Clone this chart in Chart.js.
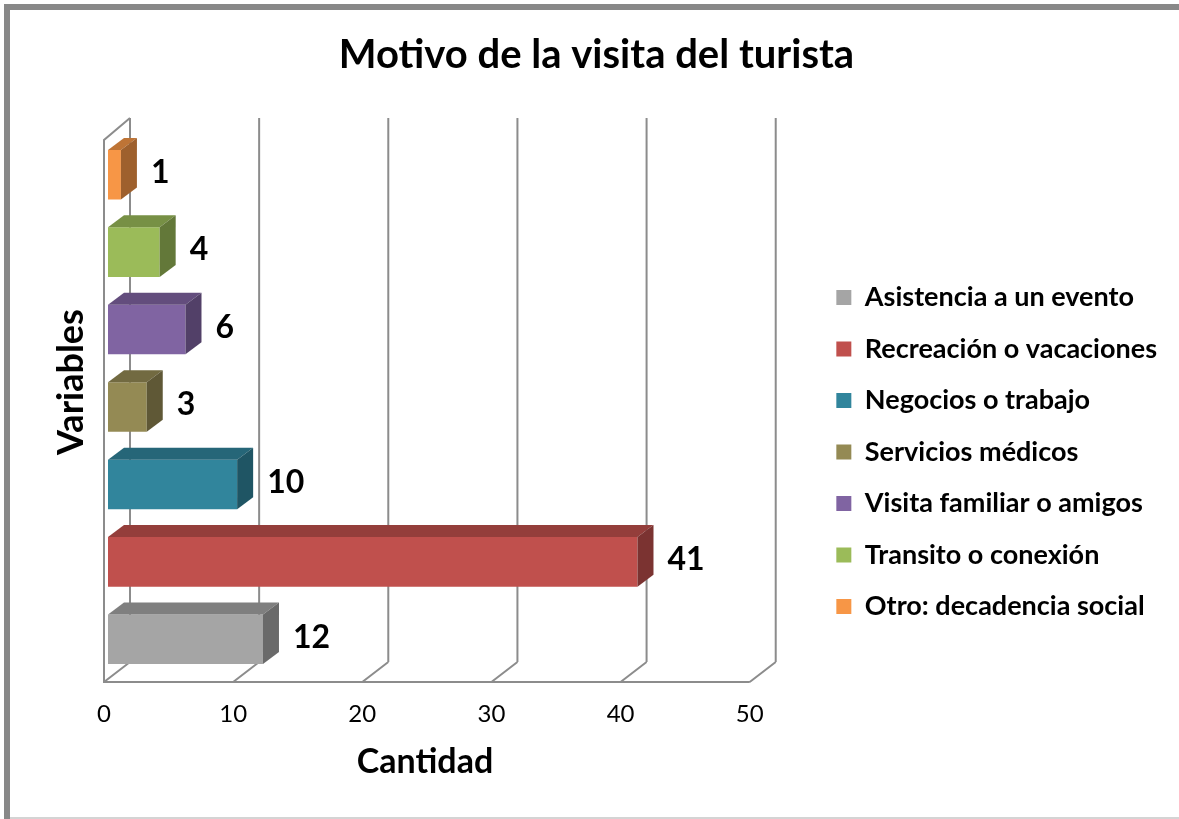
<!DOCTYPE html>
<html>
<head>
<meta charset="utf-8">
<script src="https://cdn.jsdelivr.net/npm/chart.js@4.4.1/dist/chart.umd.min.js"></script>
<style>
  html, body { margin: 0; padding: 0; background: #fff; }
  #wrap { width: 1179px; height: 819px; }
</style>
</head>
<body>
<div id="wrap"><canvas id="chart" width="1179" height="819"></canvas></div>
<script>
// data
var categories = [
  "Asistencia a un evento",
  "Recreación o vacaciones",
  "Negocios o trabajo",
  "Servicios médicos",
  "Visita familiar o amigos",
  "Transito o conexión",
  "Otro: decadencia social"
];
var cantidad = [12, 41, 10, 3, 6, 4, 1];
var xTicks = [0, 10, 20, 30, 40, 50];

var colors = ['#a5a5a5', '#c0504d', '#31859c', '#948a54', '#8064a2', '#9bbb59', '#f79646'];
var FONT = 'Lato';

function shade(hex, f) {
  var n = parseInt(hex.slice(1), 16);
  var r = Math.round(((n >> 16) & 255) * f);
  var g = Math.round(((n >> 8) & 255) * f);
  var b = Math.round((n & 255) * f);
  return 'rgb(' + r + ',' + g + ',' + b + ')';
}

// excel style 3d walls, bar faces, value labels and axis titles
var fake3d = {
  id: 'fake3d',
  beforeDraw: function(chart) {
    var ctx = chart.ctx;
    ctx.save();
    ctx.fillStyle = '#fff';
    ctx.fillRect(0, 0, chart.width, chart.height);
    ctx.fillStyle = '#888';
    ctx.fillRect(4, 4, chart.width - 4, 6);
    ctx.fillRect(4, 4, 6, chart.height - 4);
    ctx.fillStyle = '#d4d4d4';
    ctx.fillRect(10, 817, chart.width - 10, 2);
    ctx.restore();
  },
  beforeDatasetsDraw: function(chart) {
    var ctx = chart.ctx, a = chart.chartArea, xs = chart.scales.x;
    var dx = 26, dy = -20;
    var floorY = a.bottom + 4, topY = a.top + 4;
    var x0 = xs.getPixelForValue(0) - 4;
    ctx.save();
    ctx.strokeStyle = '#8c8c8c';
    ctx.lineWidth = 2;
    ctx.beginPath();
    xTicks.forEach(function(v) {
      var xf = xs.getPixelForValue(v) - 4;
      ctx.moveTo(xf, floorY);
      ctx.lineTo(xf + dx, floorY + dy);
      ctx.moveTo(xf + dx, floorY + dy);
      ctx.lineTo(xf + dx, topY - 22);
    });
    ctx.moveTo(x0 + dx, topY - 22);
    ctx.lineTo(x0, topY);
    ctx.lineTo(x0, floorY);
    ctx.lineTo(xs.getPixelForValue(xTicks[xTicks.length - 1]) - 4, floorY);
    ctx.stroke();
    ctx.restore();
  },
  afterDatasetsDraw: function(chart) {
    var ctx = chart.ctx;
    var meta = chart.getDatasetMeta(0);
    var bx = 16, by = -12;
    ctx.save();
    meta.data.forEach(function(bar, i) {
      var t = bar.y - bar.height / 2, b = bar.y + bar.height / 2;
      ctx.fillStyle = shade(colors[i], 0.77);
      ctx.beginPath();
      ctx.moveTo(bar.base, t);
      ctx.lineTo(bar.x, t);
      ctx.lineTo(bar.x + bx, t + by);
      ctx.lineTo(bar.base + bx, t + by);
      ctx.closePath();
      ctx.fill();
      ctx.fillStyle = shade(colors[i], 0.64);
      ctx.beginPath();
      ctx.moveTo(bar.x, t);
      ctx.lineTo(bar.x + bx, t + by);
      ctx.lineTo(bar.x + bx, b + by);
      ctx.lineTo(bar.x, b);
      ctx.closePath();
      ctx.fill();

      ctx.fillStyle = '#000';
      ctx.font = 'bold 32px ' + FONT;
      ctx.textAlign = 'left';
      ctx.textBaseline = 'middle';
      ctx.fillText(String(cantidad[i]), bar.x + 30, bar.y - 2);
    });

    ctx.textAlign = 'center';
    ctx.textBaseline = 'middle';
    ctx.font = 'bold 34px ' + FONT;
    ctx.fillText('Cantidad', 425, 762);
    ctx.font = 'bold 36px ' + FONT;
    ctx.translate(71, 382);
    ctx.rotate(-Math.PI / 2);
    ctx.fillText('Variables', 0, 0);
    ctx.restore();
  }
};

new Chart(document.getElementById('chart'), {
  type: 'bar',
  data: {
    labels: categories,
    datasets: [{
      label: 'Cantidad',
      data: cantidad,
      backgroundColor: colors,
      borderWidth: 0,
      barPercentage: 0.64,
      categoryPercentage: 1.0
    }]
  },
  options: {
    indexAxis: 'y',
    responsive: false,
    animation: false,
    layout: { padding: { left: 26, right: 12, top: 20, bottom: 69 } },
    scales: {
      x: {
        min: 0,
        max: 54.5,
        grid: { display: false, drawTicks: false },
        border: { display: false },
        ticks: {
          stepSize: 10,
          includeBounds: false,
          labelOffset: -4,
          padding: 21.6,
          color: '#000',
          font: { family: FONT, size: 24 }
        }
      },
      y: {
        reverse: true,
        grid: { display: false, drawTicks: false },
        border: { display: false },
        ticks: { display: false },
        afterFit: function(scale) { scale.width = 82; }
      }
    },
    plugins: {
      title: {
        display: true,
        text: 'Motivo de la visita del turista',
        color: '#000',
        font: { family: FONT, size: 40, weight: 'bold' },
        padding: { top: 11, bottom: 57 }
      },
      legend: {
        position: 'right',
        maxWidth: 420,
        title: { display: true, text: '', font: { size: 1 }, padding: { top: 133, bottom: 0 } },
        labels: {
          boxWidth: 15,
          boxHeight: 15,
          padding: 24.5,
          color: '#000',
          font: { family: FONT, size: 27, weight: 'bold' },
          generateLabels: function(chart) {
            return categories.map(function(c, i) {
              return { text: c, fillStyle: colors[i], strokeStyle: colors[i], fontColor: '#000', lineWidth: 0, index: i, hidden: false };
            });
          }
        }
      },
      tooltip: { enabled: false }
    }
  },
  plugins: [fake3d]
});
</script>
</body>
</html>
